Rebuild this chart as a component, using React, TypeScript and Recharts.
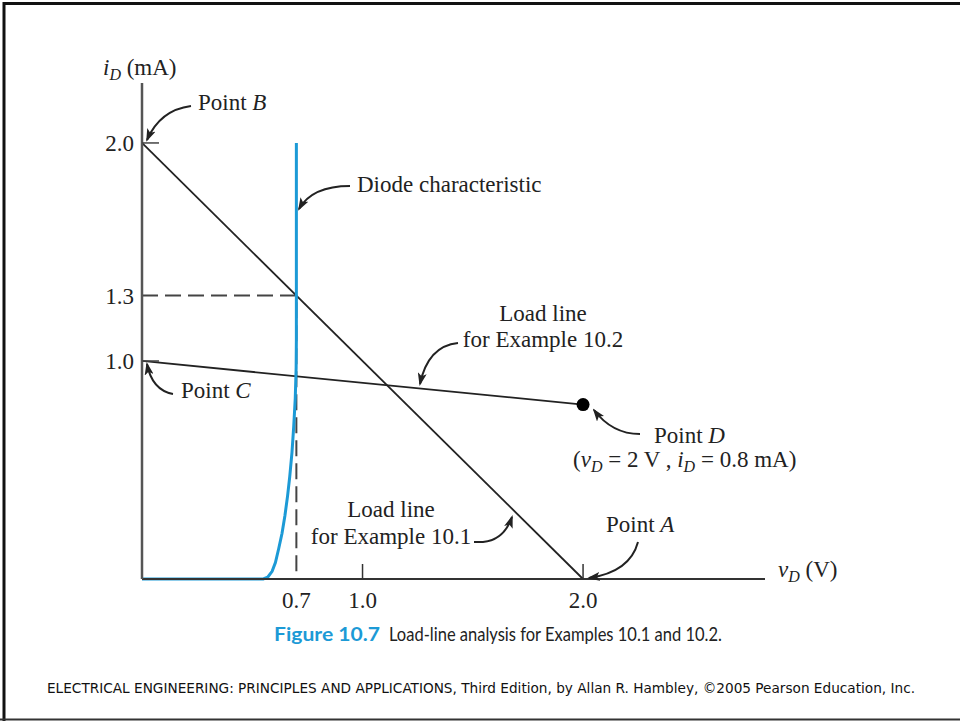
import { LineChart, Line, XAxis, YAxis, ReferenceDot } from 'recharts';

// Diode i-v characteristic (V, mA)
const DIODE_V = [0, 0.55, 0.57, 0.59, 0.605, 0.62, 0.635, 0.648, 0.66, 0.67, 0.68, 0.688, 0.695, 0.699, 0.7, 0.7];
const DIODE_I = [0, 0, 0.008, 0.035, 0.075, 0.14, 0.21, 0.29, 0.38, 0.47, 0.58, 0.7, 0.83, 0.97, 1.1, 2.0];

// Load line, Example 10.1: Point B (0 V, 2 mA) to Point A (2 V, 0 mA)
const LOAD1_V = [0, 2.0];
const LOAD1_I = [2.0, 0];

// Load line, Example 10.2: Point C (0 V, 1 mA) to Point D (2 V, 0.8 mA)
const LOAD2_V = [0, 2.0];
const LOAD2_I = [1.0, 0.8];

// Operating point of Example 10.1
const Q_V = 0.7;
const Q_I = 1.3;

const X_TICKS = [0.7, 1.0, 2.0];
const Y_TICKS = [1.0, 1.3, 2.0];
// ticks that get a short inward mark on the axis
const X_MARKED = [1.0, 2.0];
const Y_MARKED = [1.0, 2.0];

const X_MAX = 2.825;
const Y_MAX = 2.275;

const toRows = (vs: number[], is: number[]) => vs.map((v, k) => ({ v, i: is[k] }));

const diodeData = toRows(DIODE_V, DIODE_I);
const load1Data = toRows(LOAD1_V, LOAD1_I);
const load2Data = toRows(LOAD2_V, LOAD2_I);
const guideData = [
  { v: 0, i: Q_I },
  { v: Q_V, i: Q_I },
  { v: Q_V, i: 0 },
];

const SERIF = '"Liberation Serif", "Times New Roman", serif';
const SANS = 'Lato, "Liberation Sans", sans-serif';
const BLUE = '#1c9ad6';
const INK = '#222';
const FS = 23;

const W = 960;
const H = 721;
const MARGIN = { top: 83, right: 195, left: 82, bottom: 112 };

const YTick = ({ x, y, payload }: any) => (
  <g>
    <text x={x} y={y} dy={8} textAnchor="end" fontSize={FS} fontFamily={SERIF} fill={INK}>
      {Number(payload.value).toFixed(1)}
    </text>
    {Y_MARKED.includes(payload.value) && (
      <line x1={x + 8} x2={x + 25} y1={y} y2={y} stroke="#444" strokeWidth={1.5} />
    )}
  </g>
);

const XTick = ({ x, y, payload }: any) => (
  <g>
    <text x={x} y={y} dy={21} textAnchor="middle" fontSize={FS} fontFamily={SERIF} fill={INK}>
      {Number(payload.value).toFixed(1)}
    </text>
    {X_MARKED.includes(payload.value) && (
      <line x1={x} x2={x} y1={y - 8} y2={y - 23} stroke="#333" strokeWidth={1.5} />
    )}
  </g>
);

// annotation text + curved leader arrows
const Arrow = ({ d }: { d: string }) => (
  <path d={d} fill="none" stroke={INK} strokeWidth={2} markerEnd="url(#tip)" />
);

const Notes = () => (
  <svg
    width={W}
    height={H}
    style={{ position: 'absolute', left: 0, top: 0, pointerEvents: 'none' }}
  >
    <defs>
      <marker id="tip" markerWidth={13} markerHeight={9} refX={11} refY={4.5} orient="auto" markerUnits="userSpaceOnUse">
        <path d="M0,0 L13,4.5 L0,9 L3,4.5 z" fill={INK} />
      </marker>
    </defs>

    {/* frame */}
    <path d="M4,721 L4,3.5 L960,3.5" fill="none" stroke="#111" strokeWidth={3} />
    <line x1={0} x2={960} y1={719.5} y2={719.5} stroke="#333" strokeWidth={2} />

    <g fontFamily={SERIF} fontSize={FS} fill={INK}>
      <text x={103} y={75}>
        <tspan fontStyle="italic">i</tspan>
        <tspan fontStyle="italic" fontSize={16} dy={5}>D</tspan>
        <tspan dy={-5}> (mA)</tspan>
      </text>
      <text x={778} y={577}>
        <tspan fontStyle="italic">v</tspan>
        <tspan fontStyle="italic" fontSize={16} dy={5}>D</tspan>
        <tspan dy={-5}> (V)</tspan>
      </text>

      <text x={198} y={110}>
        Point <tspan fontStyle="italic">B</tspan>
      </text>
      <Arrow d="M191,106 Q160,110 147,140" />

      <text x={357} y={192}>Diode characteristic</text>
      <Arrow d="M350,186 Q312,186 299,209" />

      <text x={543} y={321} textAnchor="middle">Load line</text>
      <text x={543} y={347} textAnchor="middle">for Example 10.2</text>
      <Arrow d="M458,343 Q428,346 420,384" />

      <text x={181} y={398}>
        Point <tspan fontStyle="italic">C</tspan>
      </text>
      <Arrow d="M173,394 Q152,390 147,364" />

      <text x={654} y={443}>
        Point <tspan fontStyle="italic">D</tspan>
      </text>
      <text x={573} y={467}>
        (<tspan fontStyle="italic">v</tspan>
        <tspan fontStyle="italic" fontSize={16} dy={5}>D</tspan>
        <tspan dy={-5}> = 2 V , </tspan>
        <tspan fontStyle="italic">i</tspan>
        <tspan fontStyle="italic" fontSize={16} dy={5}>D</tspan>
        <tspan dy={-5}> = 0.8 mA)</tspan>
      </text>
      <Arrow d="M640,434 Q612,434 594,410" />

      <text x={391} y={517} textAnchor="middle">Load line</text>
      <text x={391} y={544} textAnchor="middle">for Example 10.1</text>
      <Arrow d="M474,542 L483,542 Q504,540 512,517" />

      <text x={606} y={532}>
        Point <tspan fontStyle="italic">A</tspan>
      </text>
      <Arrow d="M638,542 Q630,572 589,578" />
    </g>

    <text x={274} y={641} fontFamily={SANS} fontSize={19} fontWeight={700} fill={BLUE} textLength={106} lengthAdjust="spacingAndGlyphs">
      Figure 10.7
    </text>
    <text x={389} y={641} fontFamily={SANS} fontSize={19} fill="#222" textLength={333} lengthAdjust="spacingAndGlyphs">
      Load-line analysis for Examples 10.1 and 10.2.
    </text>

    <text
      x={47}
      y={693}
      fontFamily='"Liberation Sans Narrow", "DejaVu Sans Condensed", "Liberation Sans", sans-serif'
      fontSize={14.5}
      fill="#111"
      textLength={868}
      lengthAdjust="spacingAndGlyphs"
    >
      ELECTRICAL ENGINEERING: PRINCIPLES AND APPLICATIONS, Third Edition, by Allan R. Hambley, ©2005 Pearson Education, Inc.
    </text>
  </svg>
);

export default function App() {
  return (
    <div style={{ position: 'absolute', left: 0, top: 0, width: W, height: H, background: '#fff' }}>
      <LineChart width={W} height={H} margin={MARGIN}>
        <XAxis
          type="number"
          dataKey="v"
          domain={[0, X_MAX]}
          ticks={X_TICKS}
          tickLine={false}
          axisLine={{ stroke: '#333', strokeWidth: 2 }}
          tick={<XTick />}
          height={30}
        />
        <YAxis
          type="number"
          dataKey="i"
          domain={[0, Y_MAX]}
          ticks={Y_TICKS}
          tickLine={false}
          axisLine={{ stroke: '#555', strokeWidth: 2.5 }}
          tick={<YTick />}
          width={60}
        />
        <Line
          data={guideData}
          dataKey="i"
          type="linear"
          stroke="#444"
          strokeWidth={2}
          strokeDasharray="16 7"
          dot={false}
          isAnimationActive={false}
        />
        <Line
          data={load1Data}
          dataKey="i"
          type="linear"
          stroke={INK}
          strokeWidth={1.8}
          dot={false}
          isAnimationActive={false}
        />
        <Line
          data={load2Data}
          dataKey="i"
          type="linear"
          stroke={INK}
          strokeWidth={1.8}
          dot={false}
          isAnimationActive={false}
        />
        <Line
          data={diodeData}
          dataKey="i"
          type="linear"
          stroke={BLUE}
          strokeWidth={3}
          dot={false}
          isAnimationActive={false}
        />
        <ReferenceDot x={LOAD2_V[1]} y={LOAD2_I[1]} r={6.5} fill="#000" stroke="none" />
      </LineChart>
      <Notes />
    </div>
  );
}
